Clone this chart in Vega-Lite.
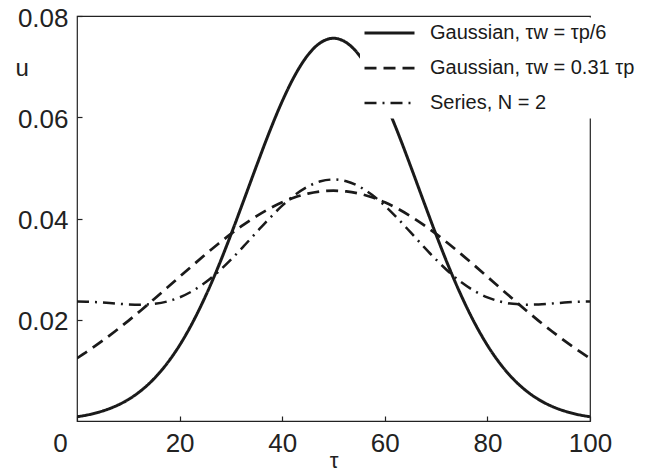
{
  "$schema": "https://vega.github.io/schema/vega-lite/v6.json",
  "width": 513,
  "height": 405,
  "autosize": {"type": "none"},
  "padding": {"left": 77, "top": 16, "right": 55, "bottom": 53},
  "background": "white",
  "config": {
    "view": {"stroke": "#222", "strokeWidth": 1.2},
    "font": "Liberation Sans",
    "axis": {"grid": false, "domain": false, "labelFlush": false, "tickColor": "#222", "tickSize": -5, "tickWidth": 1.2, "labelColor": "#222", "titleColor": "#222", "labelFont": "Liberation Sans", "titleFont": "Liberation Sans", "titleFontWeight": "normal"},
    "legend": {
      "orient": "none", "legendX": 283, "legendY": 1.5, "fillColor": "white", "padding": 3,
      "symbolType": "stroke", "symbolSize": 2500, "symbolStrokeWidth": 2.5, "symbolStrokeColor": "#1a1a1a",
      "labelFontSize": 20, "labelFont": "Liberation Sans", "labelColor": "#1a1a1a", "labelOffset": 14, "clipHeight": 25, "rowPadding": 10, "labelLimit": 400
    }
  },
  "data": {"values": [
    {"x": 0, "u": 0.00084, "s": "a"}, {"x": 2.5, "u": 0.00130, "s": "a"}, {"x": 5, "u": 0.00198, "s": "a"}, {"x": 7.5, "u": 0.00293, "s": "a"},
    {"x": 10, "u": 0.00424, "s": "a"}, {"x": 12.5, "u": 0.00602, "s": "a"}, {"x": 15, "u": 0.00834, "s": "a"}, {"x": 17.5, "u": 0.01130, "s": "a"},
    {"x": 20, "u": 0.01496, "s": "a"}, {"x": 22.5, "u": 0.01938, "s": "a"}, {"x": 25, "u": 0.02455, "s": "a"}, {"x": 27.5, "u": 0.03039, "s": "a"},
    {"x": 30, "u": 0.03680, "s": "a"}, {"x": 32.5, "u": 0.04357, "s": "a"}, {"x": 35, "u": 0.05042, "s": "a"}, {"x": 37.5, "u": 0.05707, "s": "a"},
    {"x": 40, "u": 0.06315, "s": "a"}, {"x": 42.5, "u": 0.06832, "s": "a"}, {"x": 45, "u": 0.07227, "s": "a"}, {"x": 47.5, "u": 0.07475, "s": "a"},
    {"x": 50, "u": 0.07560, "s": "a"},
    {"x": 52.5, "u": 0.07475, "s": "a"}, {"x": 55, "u": 0.07227, "s": "a"}, {"x": 57.5, "u": 0.06832, "s": "a"}, {"x": 60, "u": 0.06315, "s": "a"},
    {"x": 62.5, "u": 0.05707, "s": "a"}, {"x": 65, "u": 0.05042, "s": "a"}, {"x": 67.5, "u": 0.04357, "s": "a"}, {"x": 70, "u": 0.03680, "s": "a"},
    {"x": 72.5, "u": 0.03039, "s": "a"}, {"x": 75, "u": 0.02455, "s": "a"}, {"x": 77.5, "u": 0.01938, "s": "a"}, {"x": 80, "u": 0.01496, "s": "a"},
    {"x": 82.5, "u": 0.01130, "s": "a"}, {"x": 85, "u": 0.00834, "s": "a"}, {"x": 87.5, "u": 0.00602, "s": "a"}, {"x": 90, "u": 0.00424, "s": "a"},
    {"x": 92.5, "u": 0.00293, "s": "a"}, {"x": 95, "u": 0.00198, "s": "a"}, {"x": 97.5, "u": 0.00130, "s": "a"}, {"x": 100, "u": 0.00084, "s": "a"},

    {"x": 0, "u": 0.01239, "s": "b"}, {"x": 2.5, "u": 0.01407, "s": "b"}, {"x": 5, "u": 0.01587, "s": "b"}, {"x": 7.5, "u": 0.01778, "s": "b"},
    {"x": 10, "u": 0.01979, "s": "b"}, {"x": 12.5, "u": 0.02189, "s": "b"}, {"x": 15, "u": 0.02406, "s": "b"}, {"x": 17.5, "u": 0.02626, "s": "b"},
    {"x": 20, "u": 0.02849, "s": "b"}, {"x": 22.5, "u": 0.03070, "s": "b"}, {"x": 25, "u": 0.03287, "s": "b"}, {"x": 27.5, "u": 0.03496, "s": "b"},
    {"x": 30, "u": 0.03695, "s": "b"}, {"x": 32.5, "u": 0.03880, "s": "b"}, {"x": 35, "u": 0.04047, "s": "b"}, {"x": 37.5, "u": 0.04195, "s": "b"},
    {"x": 40, "u": 0.04319, "s": "b"}, {"x": 42.5, "u": 0.04419, "s": "b"}, {"x": 45, "u": 0.04491, "s": "b"}, {"x": 47.5, "u": 0.04535, "s": "b"},
    {"x": 50, "u": 0.04550, "s": "b"},
    {"x": 52.5, "u": 0.04535, "s": "b"}, {"x": 55, "u": 0.04491, "s": "b"}, {"x": 57.5, "u": 0.04419, "s": "b"}, {"x": 60, "u": 0.04319, "s": "b"},
    {"x": 62.5, "u": 0.04195, "s": "b"}, {"x": 65, "u": 0.04047, "s": "b"}, {"x": 67.5, "u": 0.03880, "s": "b"}, {"x": 70, "u": 0.03695, "s": "b"},
    {"x": 72.5, "u": 0.03496, "s": "b"}, {"x": 75, "u": 0.03287, "s": "b"}, {"x": 77.5, "u": 0.03070, "s": "b"}, {"x": 80, "u": 0.02849, "s": "b"},
    {"x": 82.5, "u": 0.02626, "s": "b"}, {"x": 85, "u": 0.02406, "s": "b"}, {"x": 87.5, "u": 0.02189, "s": "b"}, {"x": 90, "u": 0.01979, "s": "b"},
    {"x": 92.5, "u": 0.01778, "s": "b"}, {"x": 95, "u": 0.01587, "s": "b"}, {"x": 97.5, "u": 0.01407, "s": "b"}, {"x": 100, "u": 0.01239, "s": "b"},

    {"x": 0, "u": 0.02360, "s": "c"}, {"x": 2.5, "u": 0.02355, "s": "c"}, {"x": 5, "u": 0.02340, "s": "c"}, {"x": 7.5, "u": 0.02320, "s": "c"},
    {"x": 10, "u": 0.02303, "s": "c"}, {"x": 12.5, "u": 0.02298, "s": "c"}, {"x": 15, "u": 0.02314, "s": "c"}, {"x": 17.5, "u": 0.02359, "s": "c"},
    {"x": 20, "u": 0.02442, "s": "c"}, {"x": 22.5, "u": 0.02567, "s": "c"}, {"x": 25, "u": 0.02735, "s": "c"}, {"x": 27.5, "u": 0.02944, "s": "c"},
    {"x": 30, "u": 0.03187, "s": "c"}, {"x": 32.5, "u": 0.03453, "s": "c"}, {"x": 35, "u": 0.03730, "s": "c"}, {"x": 37.5, "u": 0.04002, "s": "c"},
    {"x": 40, "u": 0.04253, "s": "c"}, {"x": 42.5, "u": 0.04468, "s": "c"}, {"x": 45, "u": 0.04632, "s": "c"}, {"x": 47.5, "u": 0.04735, "s": "c"},
    {"x": 50, "u": 0.04770, "s": "c"},
    {"x": 52.5, "u": 0.04735, "s": "c"}, {"x": 55, "u": 0.04632, "s": "c"}, {"x": 57.5, "u": 0.04468, "s": "c"}, {"x": 60, "u": 0.04253, "s": "c"},
    {"x": 62.5, "u": 0.04002, "s": "c"}, {"x": 65, "u": 0.03730, "s": "c"}, {"x": 67.5, "u": 0.03453, "s": "c"}, {"x": 70, "u": 0.03187, "s": "c"},
    {"x": 72.5, "u": 0.02944, "s": "c"}, {"x": 75, "u": 0.02735, "s": "c"}, {"x": 77.5, "u": 0.02567, "s": "c"}, {"x": 80, "u": 0.02442, "s": "c"},
    {"x": 82.5, "u": 0.02359, "s": "c"}, {"x": 85, "u": 0.02314, "s": "c"}, {"x": 87.5, "u": 0.02298, "s": "c"}, {"x": 90, "u": 0.02303, "s": "c"},
    {"x": 92.5, "u": 0.02320, "s": "c"}, {"x": 95, "u": 0.02340, "s": "c"}, {"x": 97.5, "u": 0.02355, "s": "c"}, {"x": 100, "u": 0.02360, "s": "c"}
  ]},
  "mark": {"type": "line", "interpolate": "monotone", "color": "#1a1a1a", "clip": true},
  "encoding": {
    "x": {
      "field": "x", "type": "quantitative",
      "scale": {"domain": [0, 100], "nice": false, "zero": false},
      "axis": {
        "values": [0, 20, 40, 60, 80, 100], "labelFontSize": 26, "labelPadding": 14,
        "labelOffset": {"condition": {"test": "datum.value === 0", "value": -17}, "value": 0},
        "title": "τ", "titleFontSize": 22, "titleBaseline": "alphabetic", "titleY": 46
      }
    },
    "y": {
      "field": "u", "type": "quantitative",
      "scale": {"domain": [0, 0.08], "nice": false, "zero": false},
      "axis": {
        "values": [0.02, 0.04, 0.06, 0.08], "format": ".2f", "labelFontSize": 26, "labelPadding": 14, "labelOffset": 2,
        "title": "u", "titleFontSize": 24, "titleAngle": 0, "titleAlign": "left", "titleBaseline": "alphabetic",
        "titleX": -62, "titleY": 59
      }
    },
    "strokeDash": {
      "field": "s", "type": "nominal",
      "scale": {"domain": ["a", "b", "c"], "range": [[1, 0], [12, 7], [12, 6, 2, 6]]},
      "legend": {
        "title": null,
        "labelExpr": "datum.value === 'a' ? 'Gaussian, τw = τp/6' : datum.value === 'b' ? 'Gaussian, τw = 0.31 τp' : '\u00a0Series, N = 2'"
      }
    },
    "strokeWidth": {
      "field": "s", "type": "nominal",
      "scale": {"domain": ["a", "b", "c"], "range": [3, 2.5, 2.5]},
      "legend": null
    }
  }
}
